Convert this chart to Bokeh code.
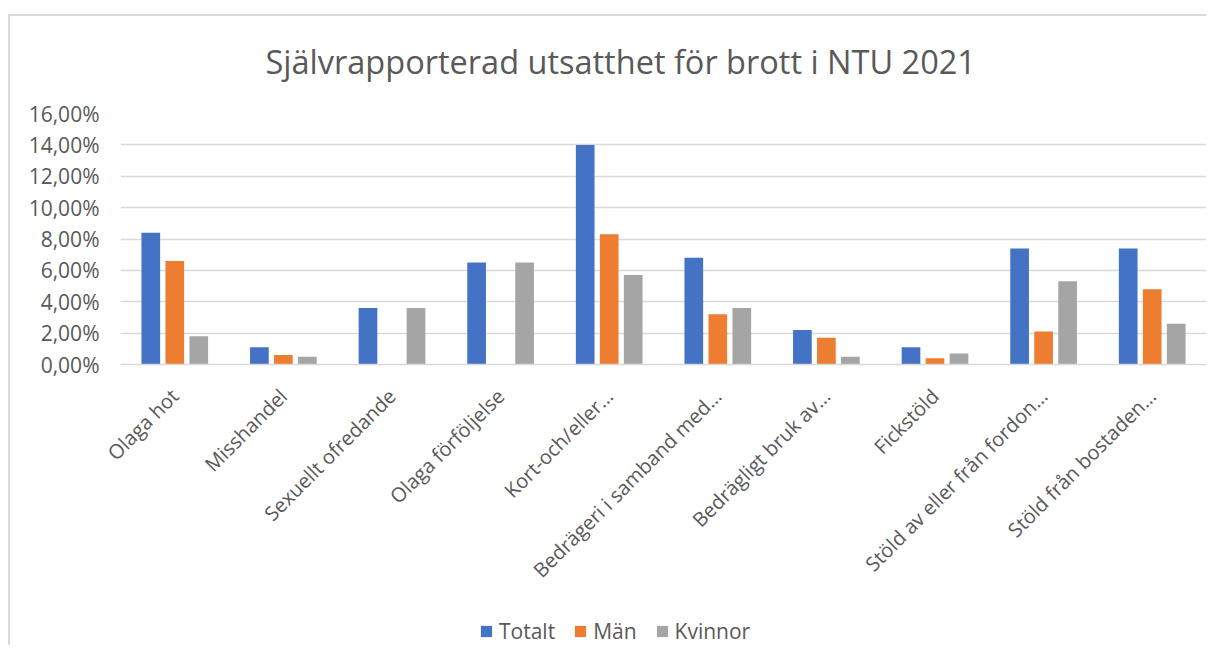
import math
from bokeh.plotting import figure
from bokeh.layouts import column
from bokeh.models import (ColumnDataSource, FactorRange, Range1d, FixedTicker, Legend, LegendItem)
from bokeh.transform import dodge
from bokeh.embed import file_html
from bokeh.resources import INLINE

categories = ["Olaga hot", "Misshandel", "Sexuellt ofredande", "Olaga förföljelse",
              "Kort-och/eller…", "Bedrägeri i samband med…", "Bedrägligt bruk av…",
              "Fickstöld", "Stöld av eller från fordon…", "Stöld från bostaden…"]
totalt = [8.4, 1.1, 3.6, 6.5, 14.0, 6.8, 2.2, 1.1, 7.4, 7.4]
man = [6.6, 0.6, 0.0, 0.0, 8.3, 3.2, 1.7, 0.4, 2.1, 4.8]
kvinnor = [1.8, 0.5, 3.6, 6.5, 5.7, 3.6, 0.5, 0.7, 5.3, 2.6]
series_names = ["Totalt", "Män", "Kvinnor"]
y_ticks = [0, 2, 4, 6, 8, 10, 12, 14, 16]
y_tick_labels = ["0,00%", "2,00%", "4,00%", "6,00%", "8,00%", "10,00%", "12,00%", "14,00%", "16,00%"]

colors = ["#4472C4", "#ED7D31", "#A5A5A5"]
TXT = "#595959"
FONT = "Open Sans"

src = ColumnDataSource(dict(cat=categories, totalt=totalt, man=man, kvinnor=kvinnor))

p = figure(x_range=FactorRange(*categories), y_range=Range1d(0, 16),
           frame_width=1086, frame_height=251, output_backend="svg", toolbar_location=None,
           min_border_left=120, min_border_right=0, min_border_top=113, min_border_bottom=226)
p.border_fill_alpha = 0

p.title.text = "Självrapporterad utsatthet för brott i NTU 2021"
p.title.align = "left"
p.title.offset = 145
p.title.text_font = FONT
p.title.text_font_size = "32.5px"
p.title.text_font_style = "normal"
p.title.text_color = TXT
p.title.standoff = 59

off = 0.221
w = 0.172
for col, o, c in zip(["totalt", "man", "kvinnor"], [-off, 0, off], colors):
    p.vbar(x=dodge("cat", o, range=p.x_range), top=col, width=w, source=src,
           fill_color=c, line_color=None)

p.outline_line_color = None
p.xgrid.grid_line_color = None
p.ygrid.grid_line_color = "#D9D9D9"
p.ygrid.grid_line_width = 1.3

p.yaxis.ticker = FixedTicker(ticks=y_ticks)
p.yaxis.major_label_overrides = {t: l for t, l in zip(y_ticks, y_tick_labels)}
p.yaxis.axis_line_color = None
p.yaxis.major_tick_line_color = None
p.yaxis.minor_tick_line_color = None
p.yaxis.major_label_text_font = FONT
p.yaxis.major_label_text_font_size = "21px"
p.yaxis.major_label_text_color = TXT
p.yaxis.major_label_standoff = 15

p.xaxis.axis_line_color = "#D9D9D9"
p.xaxis.axis_line_width = 1.3
p.xaxis.major_tick_line_color = None
p.xaxis.minor_tick_line_color = None
p.xaxis.major_label_orientation = math.pi / 4
p.xaxis.major_label_text_font = FONT
p.xaxis.major_label_text_font_size = "20px"
p.xaxis.major_label_text_color = TXT
p.xaxis.major_label_standoff = 22

# legend in its own strip below the chart (proxy bars kept outside the visible range)
lg = figure(x_range=Range1d(0, 1), y_range=Range1d(0, 1), frame_width=1206, frame_height=50,
            output_backend="svg", toolbar_location=None,
            min_border_left=0, min_border_right=0, min_border_top=0, min_border_bottom=0)
lg.border_fill_alpha = 0
lg.background_fill_alpha = 0
lg.axis.visible = False
lg.grid.visible = False
lg.outline_line_color = None
items = []
for n, c in zip(series_names, colors):
    r = lg.vbar(x=[0.5], top=[-1], bottom=[-2], width=0.1, fill_color=c, line_color=None)
    items.append(LegendItem(label=n, renderers=[r]))
legend = Legend(items=items, orientation="horizontal", location=(479, 0))
legend.label_text_font = FONT
legend.label_text_font_size = "21px"
legend.label_text_color = TXT
legend.glyph_width = 14
legend.glyph_height = 14
legend.label_standoff = 6
legend.spacing = 18
legend.border_line_color = None
legend.background_fill_alpha = 0
lg.add_layout(legend, "center")

layout = column(p, lg, spacing=0)
layout.styles = {
    "background-image": "linear-gradient(#D9D9D9, #D9D9D9), linear-gradient(#D9D9D9, #D9D9D9)",
    "background-size": "2px 100%, 100% 2px",
    "background-position": "8px 14px, 8px 14px",
    "background-repeat": "no-repeat",
}
open("out.html", "w").write(file_html(layout, INLINE))
